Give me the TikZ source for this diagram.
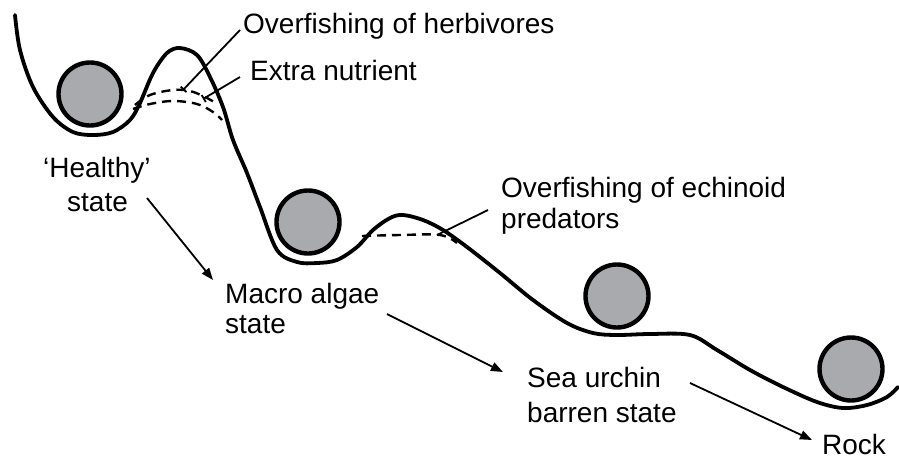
\documentclass[tikz,border=0pt]{standalone}
\usepackage{fontspec}
\setmainfont{Liberation Sans}
\usetikzlibrary{arrows.meta}
\definecolor{ballgray}{RGB}{168,170,174}
\begin{document}
\begin{tikzpicture}[x=1pt,y=-1pt,
 land/.style={line width=3.8pt, line cap=round, line join=round},
 ball/.style={circle, draw, line width=4.4pt, fill=ballgray, minimum size=63pt, inner sep=0pt},
 dashline/.style={line width=2.4pt, dash pattern=on 9pt off 6pt},
 leader/.style={line width=1.8pt},
 flow/.style={line width=1.8pt, -{Triangle[length=12pt,width=9pt]}},
 lbl/.style={font=\fontsize{28}{33}\selectfont, inner sep=0pt, anchor=base west}]
\useasboundingbox[fill=white] (0,0) rectangle (899,459);

% landscape
\draw[land] plot[smooth, tension=0.55] coordinates {
 (15,15) (20,50) (33,87) (53,117) (73,132) (93,135) (113,132) (130,120)
 (140,103) (153,73) (167,53) (180,48) (197,55) (210,77) (223,107) (233,140)
 (247,173) (260,207) (277,250) (297,262) (317,263) (337,260) (357,247)
 (373,230) (390,218) (403,215) (423,220) (443,230) (467,247) (500,273)
 (533,300) (567,323) (593,333) (617,335) (650,334) (690,335) (717,350)
 (750,370) (783,387) (817,402) (843,408) (867,405) (887,397) (898,387)};

% balls
\node[ball] (b1) at (90,94) {};
\node[ball] (b2) at (308,222) {};
\node[ball] (b3) at (617,296) {};
\node[ball] (b4) at (851,369) {};

% dashed alternative thresholds
\draw[dashline] plot[smooth, tension=0.6] coordinates {(135,105) (150,95) (173,90) (190,91) (205,97) (214,102)};
\draw[dashline] plot[smooth, tension=0.6] coordinates {(133,109) (150,104) (173,101) (197,104) (213,112) (222,120)};
\draw[dashline] plot[smooth, tension=0.6] coordinates {(362,236) (400,235) (440,235) (457,243)};

% labels
\node[lbl] (ofh) at (243,33) {Overfishing of herbivores};
\node[lbl] (exn) at (250,80) {Extra nutrient};
\node[lbl] (h1) at (43,177) {‘Healthy’};
\node[lbl] (h2) at (67,211) {state};
\node[lbl] (m1) at (225,303) {Macro algae};
\node[lbl] (m2) at (225,333) {state};
\node[lbl] (oe1) at (501,197) {Overfishing of echinoid};
\node[lbl] (oe2) at (501,228) {predators};
\node[lbl] (s1) at (527,387) {Sea urchin};
\node[lbl] (s2) at (527,422) {barren state};
\node[lbl] (rk) at (822,454) {Rock};

% leader coordinates
\coordinate (l1a) at (240,30);
\coordinate (l1b) at (183,90);
\coordinate (l2a) at (240,77);
\coordinate (l2b) at (203,99);
\coordinate (l3a) at (488,210);
\coordinate (l3b) at (437,235);
\draw[leader, -{Bar[width=8pt]}] (l1a) -- (l1b);
\draw[leader, -{Bar[width=8pt]}] (l2a) -- (l2b);
\draw[leader] (l3a) -- (l3b);

% transition arrows
\coordinate (a1a) at (147,198);
\coordinate (a1b) at (213,280);
\coordinate (a2a) at (387,314);
\coordinate (a2b) at (503,372);
\coordinate (a3a) at (690,383);
\coordinate (a3b) at (812,440);
\draw[flow] (a1a) -- (a1b);
\draw[flow] (a2a) -- (a2b);
\draw[flow] (a3a) -- (a3b);
\end{tikzpicture}
\end{document}
